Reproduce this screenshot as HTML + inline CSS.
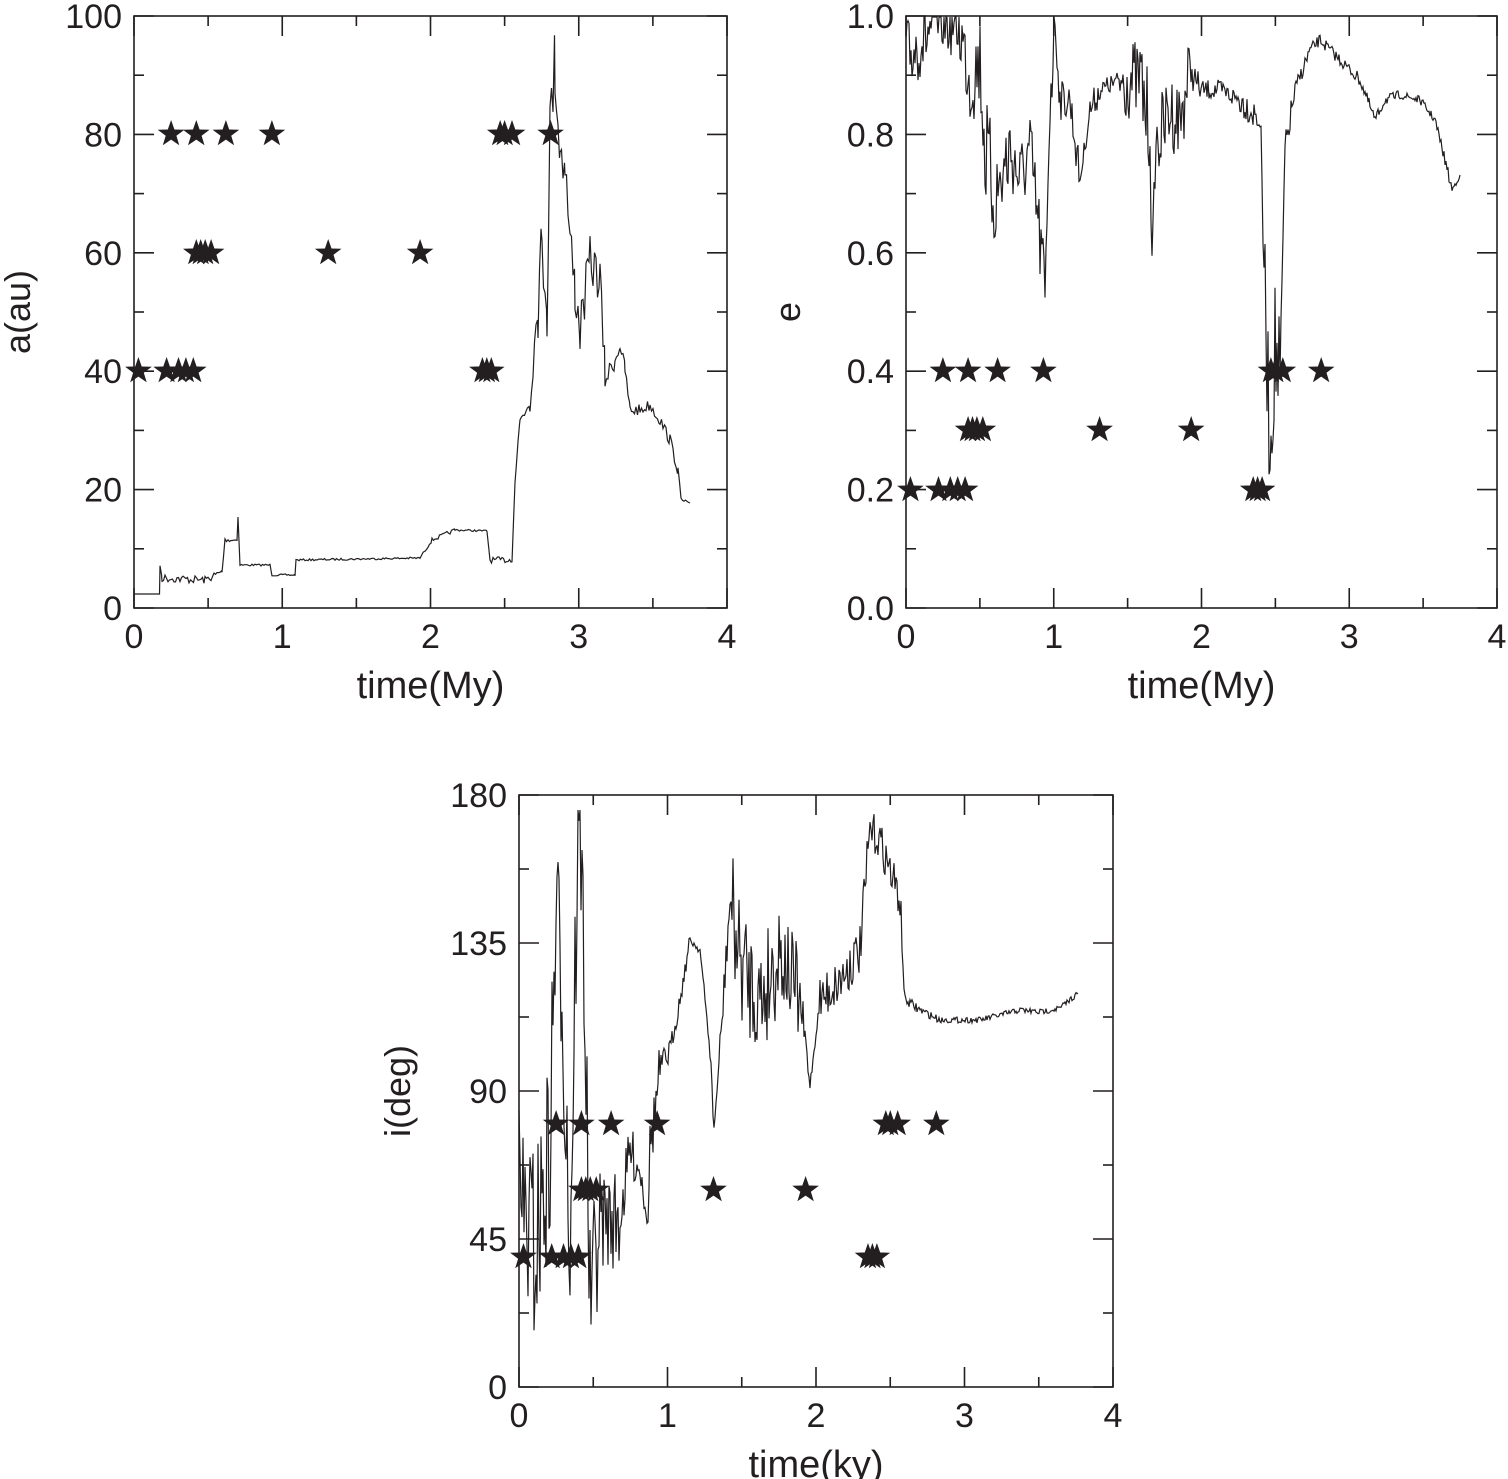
<!DOCTYPE html>
<html><head><meta charset="utf-8"><style>
html,body{margin:0;padding:0;background:#fff}
svg{display:block}
text{font-family:"Liberation Sans",Arial,sans-serif;fill:#231f20}
</style></head><body>
<svg id="s" width="1508" height="1479" viewBox="0 0 1508 1479" xmlns="http://www.w3.org/2000/svg"></svg>
<script>
const s=document.getElementById('s');let h='';
function T(x,y,t,sz,anc,rot){h+=`<text x="${x}" y="${y}" font-size="${sz}" text-anchor="${anc}"${rot?` transform="rotate(-90 ${x} ${y})"`:''}>${t}</text>`;}
function axes(L,Tp,R,B,xl,ymaj,ylabels,ylab,ylabx){
 h+=`<rect x="${L}" y="${Tp}" width="${R-L}" height="${B-Tp}" fill="none" stroke="#231f20" stroke-width="1.6"/>`;
 const W=R-L,H=B-Tp;
 for(let i=0;i<=8;i++){const x=L+W*i/8,len=i%2?10:20;
  h+=`<line x1="${x}" y1="${B}" x2="${x}" y2="${B-len}" stroke="#231f20" stroke-width="1.6"/><line x1="${x}" y1="${Tp}" x2="${x}" y2="${Tp+len}" stroke="#231f20" stroke-width="1.6"/>`;
  if(i%2==0)T(x,B+40,i/2,34,'middle');}
 const n=ylabels.length-1;
 for(let i=0;i<=2*n;i++){const y=B-H*i/(2*n),len=i%2?10:20;
  h+=`<line x1="${L}" y1="${y}" x2="${L+len}" y2="${y}" stroke="#231f20" stroke-width="1.6"/><line x1="${R}" y1="${y}" x2="${R-len}" y2="${y}" stroke="#231f20" stroke-width="1.6"/>`;
  if(i%2==0)T(L-12,y+12,ylabels[i/2],34,'end');}
 T((L+R)/2,B+90,xl,38,'middle');
 T(ylabx,(Tp+B)/2,ylab,36,'middle',true);
}
function star(cx,cy,r){let p=[];for(let i=0;i<10;i++){const a=-Math.PI/2+i*Math.PI/5,rr=i%2?r*0.4:r;p.push((cx+rr*Math.cos(a)).toFixed(1)+','+(cy+rr*Math.sin(a)).toFixed(1));}h+=`<polygon points="${p.join(' ')}" fill="#231f20"/>`;}
const S1=[0.25,0.42,0.62,0.93,2.47,2.50,2.55,2.81],S2=[0.42,0.45,0.48,0.52,1.31,1.93],S3=[0.03,0.22,0.30,0.35,0.40,2.35,2.38,2.41];
function stars(L,R,y1,y2,y3){const k=(R-L)/4;S1.forEach(t=>star(L+t*k,y1,14));S2.forEach(t=>star(L+t*k,y2,14));S3.forEach(t=>star(L+t*k,y3,14));}
let seed=7;function rnd(){seed=(seed*16807)%2147483647;return seed/2147483647;}
function curve(pts,noise,step,top,bot){step=step||1.5;let d='';for(let i=0;i<pts.length-1;i++){const [x0,y0,a]=pts[i],[x1,y1]=pts[i+1];for(let x=x0;x<x1;x+=step){const t=(x-x0)/(x1-x0);let y=y0+(y1-y0)*t+(rnd()-0.5)*2*(a==null?noise:a);y=Math.max(top,Math.min(bot,y));d+=(d?'L':'M')+x.toFixed(1)+','+y.toFixed(1);}}
 const l=pts[pts.length-1];d+='L'+l[0]+','+l[1];h+=`<path d="${d}" fill="none" stroke="#231f20" stroke-width="1.2"/>`;}
// plot 1
axes(134,16,727,608,'time(My)',20,[0,20,40,60,80,100],'a(au)',30);
curve([[134,594,0],[160,594,0],[160,565,2],[162,578,4],[205,580,4],[222,572,3],[225,540,2],[237,540,1],[238,517,0],[240,565,1],[270,565,1],[272,575,1],[295,575,1],[296,560,1],[420,558,1],[425,550,2],[432,540,2],[455,530,1],[487,531,2],[490,560,3],[512,560,2],[515,480,8],[520,420,10],[530,400,15],[538,300,40],[542,250,30],[547,300,40],[550,130,40],[555,60,40],[560,150,30],[565,160,20],[570,240,30],[575,290,25],[580,330,25],[590,260,25],[600,280,25],[605,380,10],[615,360,8],[620,345,8],[625,370,8],[630,410,6],[640,410,6],[650,405,6],[660,420,6],[670,440,6],[678,470,5],[681,500,2],[690,503,1]],3,1.5,17,607);
stars(134,727,134,253,371);
// plot 2
axes(906,16,1497,608,'time(My)',0.2,['0.0','0.2','0.4','0.6','0.8','1.0'],'e',800);
curve([[906,60,40],[920,40,40],[940,20,30],[960,30,40],[970,80,50],[980,60,50],[985,150,60],[995,200,50],[1010,150,40],[1020,180,40],[1030,150,40],[1040,240,50],[1045,300,20],[1050,100,40],[1055,20,20],[1060,100,20],[1070,100,20],[1080,180,10],[1090,110,15],[1100,90,10],[1120,80,40],[1140,80,50],[1150,130,30],[1152,260,5],[1155,150,40],[1170,110,40],[1180,120,40],[1190,70,15],[1200,90,10],[1220,90,10],[1240,100,15],[1260,120,30],[1265,300,60],[1270,450,60],[1275,350,70],[1280,380,20],[1285,150,15],[1295,90,8],[1310,50,6],[1320,40,6],[1340,60,6],[1360,80,6],[1375,120,5],[1385,100,5],[1400,95,4],[1420,100,4],[1435,120,5],[1445,160,6],[1452,190,3],[1460,175,2]],5,1,17,607);
stars(906,1497,371,430,490);
// plot 3
axes(519,795,1113,1387,'time(ky)',45,[0,45,90,135,180],'i(deg)',410);
curve([[519,1200,100],[535,1250,100],[550,1150,110],[556,900,80],[563,1000,110],[570,1250,100],[578,820,60],[583,900,90],[590,1300,70],[600,1220,50],[620,1220,30],[630,1150,25],[640,1170,15],[648,1220,5],[650,1150,30],[660,1070,15],[670,1050,10],[680,1000,8],[690,940,4],[700,950,6],[710,1050,10],[714,1130,5],[720,1050,20],[730,900,60],[740,960,60],[760,1000,60],[780,950,50],[800,1000,25],[810,1085,5],[820,1000,25],[840,980,25],[860,950,25],[870,830,20],[880,840,20],[900,900,20],[905,1000,5],[920,1010,4],[940,1020,3],[960,1020,3],[980,1020,3],[1000,1015,3],[1020,1010,3],[1040,1012,3],[1060,1008,3],[1078,993,2]],5,1,810,1386);
stars(519,1113,1124,1190,1257);
s.innerHTML=h;
</script>
</body></html>
